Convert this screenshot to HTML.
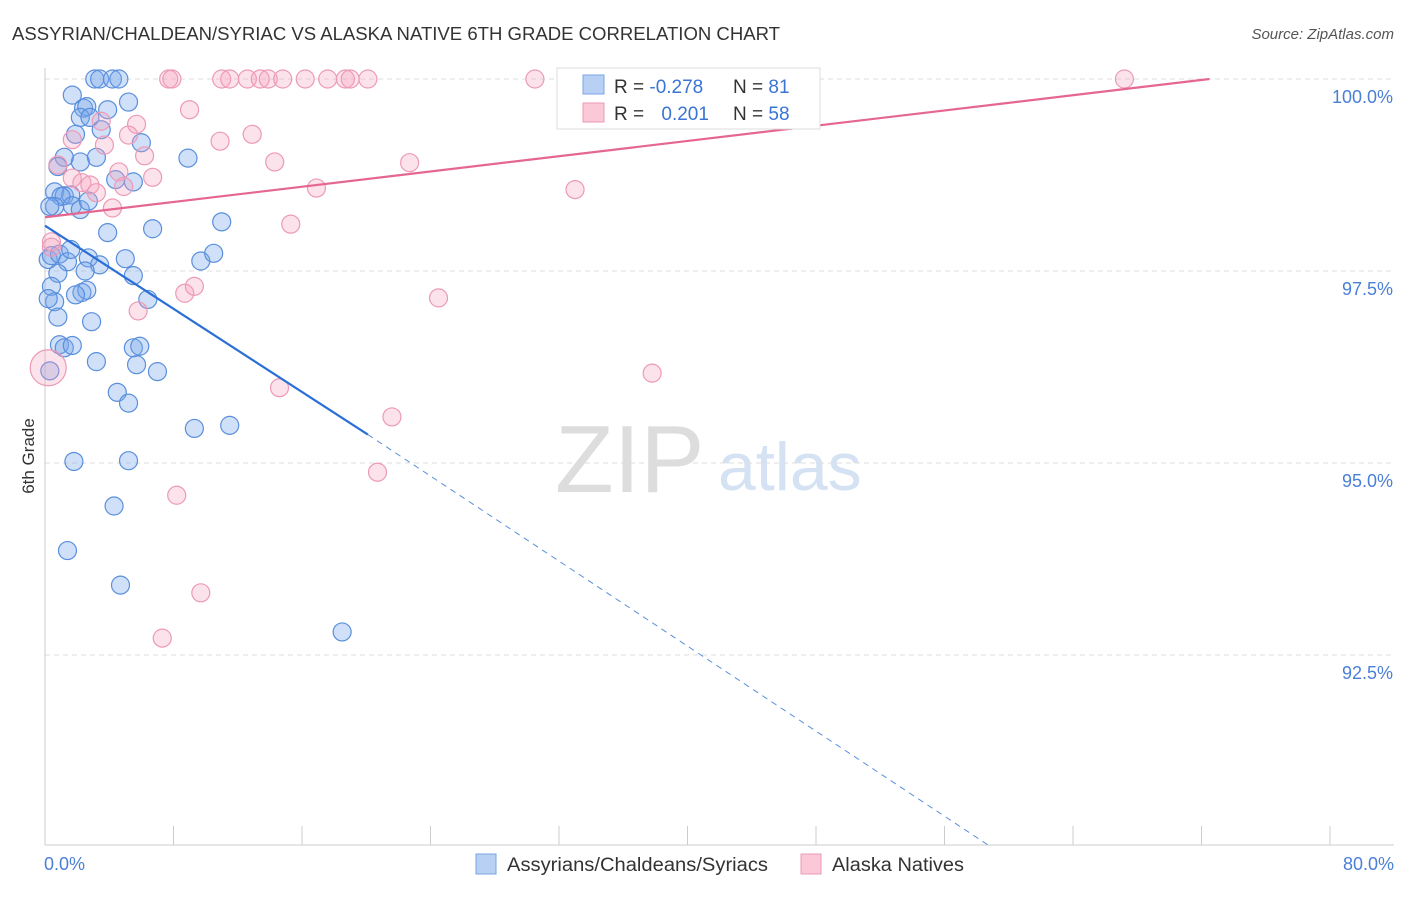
<!DOCTYPE html>
<html><head><meta charset="utf-8">
<style>
body{margin:0;background:#fff;font-family:"Liberation Sans",sans-serif;}
svg text{font-family:"Liberation Sans",sans-serif;}
</style></head>
<body>
<svg id="chart" width="1406" height="892" xmlns="http://www.w3.org/2000/svg">
<text x="12" y="40" font-size="18" fill="#333" textLength="768" lengthAdjust="spacingAndGlyphs">ASSYRIAN/CHALDEAN/SYRIAC VS ALASKA NATIVE 6TH GRADE CORRELATION CHART</text>
<text x="1394" y="39" font-size="15" fill="#555" text-anchor="end" font-style="italic">Source: ZipAtlas.com</text>
<g>
<text x="555" y="492" font-size="96" fill="#ddd" font-family="Liberation Serif">ZIP</text>
<text x="718" y="490" font-size="68" fill="#d5e2f3">atlas</text>
</g>
<g id="grid"></g>
<g id="axes"></g>
<g id="blue"></g>
<g id="pink"></g>
<g id="lines"></g>
<text transform="translate(34,456) rotate(-90)" font-size="17" fill="#333" text-anchor="middle">6th Grade</text>
<g>
<rect x="557" y="68" width="263" height="61" fill="#fff" stroke="#ddd"/>
<rect x="583" y="75" width="21" height="19" fill="#b7d0f3" stroke="#7aa5e6"/>
<rect x="583" y="103" width="21" height="19" fill="#fbc8d8" stroke="#ee9ab5"/>
<text x="614" y="93" font-size="19" fill="#333">R = <tspan fill="#3a74d4">-0.278</tspan></text>
<text x="733" y="93" font-size="19" fill="#333">N = <tspan fill="#3a74d4"> 81</tspan></text>
<text x="614" y="120" font-size="19" fill="#333">R = <tspan fill="#3a74d4" dx="12">0.201</tspan></text>
<text x="733" y="120" font-size="19" fill="#333">N = <tspan fill="#3a74d4">58</tspan></text>
</g>
<g>
<rect x="476" y="854" width="20" height="20" fill="#b7d0f3" stroke="#7aa5e6"/>
<text x="507" y="871" font-size="19" fill="#333" textLength="261" lengthAdjust="spacingAndGlyphs">Assyrians/Chaldeans/Syriacs</text>
<rect x="801" y="854" width="20" height="20" fill="#fbc8d8" stroke="#ee9ab5"/>
<text x="832" y="871" font-size="19" fill="#333" textLength="132" lengthAdjust="spacingAndGlyphs">Alaska Natives</text>
</g>
</svg>
<script>
const xTicks=[0,8,16,24,32,40,48,56,64,72,80];
const yTicks=[100,97.5,95,92.5];
const yTickLabels=["100.0%","97.5%","95.0%","92.5%"];
const blueX=[3.1,3.4,4.2,4.6,1.7,5.2,2.4,2.6,3.9,2.2,2.8,3.5,1.9,6.0,8.9,3.2,2.2,1.2,0.8,4.4,5.5,0.6,1.2,1.6,1.0,1.7,2.2,2.7,0.6,0.3,3.9,6.7,11.0,9.7,10.5,0.2,0.4,0.9,1.4,1.6,2.7,3.4,5.0,5.5,0.8,2.5,0.4,2.3,2.6,1.9,6.4,0.6,0.2,0.8,2.9,0.9,1.2,1.7,5.5,5.9,3.2,5.7,7.0,0.3,4.5,5.2,9.3,11.5,1.8,5.2,4.3,1.4,4.7,18.5];
const blueY=[100,100,100,100,99.79,99.7,99.62,99.64,99.6,99.5,99.5,99.34,99.28,99.17,98.97,98.98,98.92,98.98,98.86,98.69,98.66,98.53,98.48,98.49,98.47,98.35,98.3,98.41,98.34,98.34,98.0,98.05,98.14,97.63,97.73,97.65,97.7,97.72,97.62,97.78,97.67,97.58,97.66,97.44,97.47,97.5,97.3,97.22,97.25,97.19,97.13,97.1,97.14,96.9,96.84,96.54,96.5,96.53,96.5,96.52,96.32,96.28,96.19,96.2,95.92,95.78,95.45,95.49,95.02,95.03,94.44,93.86,93.41,92.8];
const pinkX=[7.7,7.9,11.0,11.5,12.6,13.4,13.9,14.8,16.2,17.6,18.7,19.0,20.1,30.5,41.5,44.5,67.2,9.0,3.5,5.7,5.2,1.7,3.7,12.9,10.9,6.2,14.3,22.7,0.8,4.6,6.7,1.7,2.3,2.8,3.2,4.9,16.9,33.0,4.2,15.3,0.4,0.4,8.7,9.3,24.5,5.8,37.8,14.6,21.6,20.7,8.2,9.7,7.3,0.2];
const pinkY=[100,100,100,100,100,100,100,100,100,100,100,100,100,100,100,100,100,99.6,99.45,99.41,99.27,99.21,99.14,99.28,99.19,99.0,98.92,98.91,98.88,98.79,98.72,98.71,98.65,98.62,98.52,98.6,98.58,98.56,98.32,98.11,97.88,97.81,97.21,97.3,97.15,96.98,96.17,95.98,95.6,94.88,94.58,93.31,92.72,96.24];
const pinkR=[9,9,9,9,9,9,9,9,9,9,9,9,9,9,9,9,9,9,9,9,9,9,9,9,9,9,9,9,9,9,9,9,9,9,9,9,9,9,9,9,9,9,9,9,9,9,9,9,9,9,9,9,9,18];
const blueTrend=[[0,98.09],[20.1,95.37],[58.9,90.0]];
const pinkTrend=[[0,98.2],[72.5,100.0]];
const X=v=>45+v/80*1285;
const Y=v=>79+(100-v)/2.5*192;
const NS="http://www.w3.org/2000/svg";
function mk(parent,tag,attrs){const e=document.createElementNS(NS,tag);for(const k in attrs)e.setAttribute(k,attrs[k]);document.getElementById(parent).appendChild(e);return e;}
yTicks.forEach((t,i)=>{
  const l=mk('grid','line',{x1:45,x2:1394,y1:Y(t),y2:Y(t),stroke:'#ddd','stroke-dasharray':'5,4'});
  
  
  const tx=mk('grid','text',{x:1393,y:Y(t)+24,'font-size':18,fill:'#4a7fd6','text-anchor':'end'});
  tx.textContent=yTickLabels[i];
  
  
});
const ax=mk('axes','line',{x1:45,x2:1394,y1:845,y2:845,stroke:'#ccc'});


const ay=mk('axes','line',{x1:45,x2:45,y1:68,y2:845,stroke:'#ccc'});


xTicks.forEach(t=>{
  const l=mk('axes','line',{x1:X(t),x2:X(t),y1:826,y2:845,stroke:'#ccc'});
  
  
});
[[0,"0.0%","start",44],[80,"80.0%","end",1394]].forEach(d=>{
  const tx=mk('axes','text',{x:d[3],y:870,'font-size':18,fill:'#4a7fd6','text-anchor':d[2]});
  tx.textContent=d[1];
  
  
});
blueX.forEach((v,i)=>{
  const c=mk('blue','circle',{cx:X(v),cy:Y(blueY[i]),r:9,fill:'rgba(120,165,235,0.35)',stroke:'#5a8fdc','stroke-width':1.2});
  
  
});
pinkX.forEach((v,i)=>{
  const c=mk('pink','circle',{cx:X(v),cy:Y(pinkY[i]),r:pinkR[i],fill:'rgba(245,160,190,0.3)',stroke:'#ec9ab6','stroke-width':1.2});
  
  
});
const b1=mk('lines','line',{x1:X(blueTrend[0][0]),y1:Y(blueTrend[0][1]),x2:X(blueTrend[1][0]),y2:Y(blueTrend[1][1]),stroke:'#2a6fd6','stroke-width':2.2});


const b2=mk('lines','line',{x1:X(blueTrend[1][0]),y1:Y(blueTrend[1][1]),x2:X(blueTrend[2][0]),y2:Y(blueTrend[2][1]),stroke:'#5a8fdc','stroke-width':1,'stroke-dasharray':'6,5'});


const p1=mk('lines','line',{x1:X(pinkTrend[0][0]),y1:Y(pinkTrend[0][1]),x2:X(pinkTrend[1][0]),y2:Y(pinkTrend[1][1]),stroke:'#e5678f','stroke-width':2.2});


</script>
</body></html>
